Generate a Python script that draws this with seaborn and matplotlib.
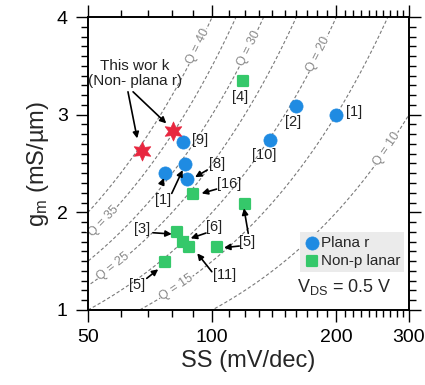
import numpy as np
import pandas as pd
import matplotlib
matplotlib.use("Agg")
import matplotlib.pyplot as plt
import seaborn as sns
from matplotlib.ticker import FixedLocator, NullFormatter, FixedFormatter

# ---- data -------------------------------------------------------------
planar_ss = [200, 160, 138, 85, 86, 77, 87]
planar_gm = [3.00, 3.09, 2.74, 2.72, 2.50, 2.40, 2.34]
nonplanar_ss = [119, 90, 120, 82, 85, 88, 103, 77]
nonplanar_gm = [3.34, 2.19, 2.09, 1.80, 1.70, 1.65, 1.64, 1.49]
work_ss = [67.5, 80.5]
work_gm = [2.63, 2.83]

q_values = [10, 15, 20, 25, 30, 35, 40]
q_label_ss = [265, 82, 181, 57.6, 122.6, 54.5, 92.4]

x_ticks = [50, 100, 200, 300]
y_ticks = [1, 2, 3, 4]

# reference labels: text, text position, arrows (tail, head)
ref_labels = [
    ("[9]", (93.2, 2.74), []),
    ("[10]", (133.6, 2.59), []),
    ("[2]", (157.1, 2.92), []),
    ("[1]", (220.7, 3.03), []),
    ("[4]", (116.8, 3.18), []),
    ("[8]", (102.5, 2.50), [((97.2, 2.433), (90.9, 2.36))]),
    ("[16]", (109.8, 2.29), [((102.5, 2.238), (94.3, 2.194))]),
    ("[1]", (76.0, 2.126), [((75.4, 2.29), (76.4, 2.351)),
                            ((79.8, 2.194), (84.8, 2.433))]),
    ("[3]", (67.5, 1.826), [((71.9, 1.791), (79.8, 1.778))]),
    ("[6]", (101.1, 1.853), [((96.6, 1.788), (88.7, 1.734))]),
    ("[11]", (107.4, 1.358), [((99.8, 1.392), (92.0, 1.58))]),
    ("[5]", (121.6, 1.699), [((122.3, 1.785), (119.4, 2.041)),
                             ((116.3, 1.655), (106.8, 1.638))]),
    ("[5]", (65.6, 1.256), [((69.4, 1.324), (74.0, 1.417))]),
]
work_label = ("This wor k\n(Non- plana r)", (64.9, 3.42),
              [((62.5, 3.234), (65.8, 2.757)), ((64.3, 3.234), (77.4, 2.911))])

BLUE = "#1f8be2"
GREEN = "#35c86a"
RED = "#e8273f"

# ---- style ------------------------------------------------------------
sns.set_theme(style="ticks")
plt.rcParams["font.family"] = ["Liberation Sans", "DejaVu Sans"]
plt.rcParams["mathtext.fontset"] = "custom"
plt.rcParams["mathtext.rm"] = "Liberation Sans"
plt.rcParams["mathtext.it"] = "Liberation Sans:italic"

fig = plt.figure(figsize=(4.25, 3.85), dpi=100)
ax = fig.add_axes([88 / 425, 1 - 310 / 385, 321 / 425, 293 / 385])
ax.set_xscale("log")
ax.set_xlim(50, 300)
ax.set_ylim(1, 4)

# ---- constant-Q guide curves (Q = gm / SS) ----------------------------
ss_grid = np.geomspace(40, 320, 300)
curves = pd.DataFrame(
    [(q, s, q * s / 1000.0) for q in q_values for s in ss_grid],
    columns=["Q", "SS", "gm"],
)
n_before = len(ax.lines)
sns.lineplot(data=curves, x="SS", y="gm", units="Q", estimator=None,
             color="#7a7a7a", lw=0.8, ax=ax, legend=False, zorder=1)
for ln in ax.lines[n_before:]:
    ln.set_dashes((3, 2))

for q, s in zip(q_values, q_label_ss):
    g = q * s / 1000.0
    p1 = ax.transData.transform((s * 0.97, q * s * 0.97 / 1000.0))
    p2 = ax.transData.transform((s * 1.03, q * s * 1.03 / 1000.0))
    ang = np.degrees(np.arctan2(p2[1] - p1[1], p2[0] - p1[0]))
    ax.text(s, g, f"Q = {q}", rotation=ang, rotation_mode="anchor",
            ha="center", va="center", fontsize=9, color="#888888",
            bbox=dict(boxstyle="square,pad=0.05", fc="white", ec="none"),
            zorder=2)

# ---- data points ------------------------------------------------------
planar = pd.DataFrame({"SS": planar_ss, "gm": planar_gm})
nonplanar = pd.DataFrame({"SS": nonplanar_ss, "gm": nonplanar_gm})
work = pd.DataFrame({"SS": work_ss, "gm": work_gm})

sns.scatterplot(data=planar, x="SS", y="gm", marker="o", s=90, color=BLUE,
                edgecolor=BLUE, linewidth=0.5, ax=ax, zorder=4,
                label="Plana r")
sns.scatterplot(data=nonplanar, x="SS", y="gm", marker="s", s=52,
                color=GREEN, edgecolor=GREEN, linewidth=1.6, ax=ax,
                zorder=4, label="Non-p lanar")
sns.scatterplot(data=work, x="SS", y="gm", marker=(6, 1, 0), s=190,
                color=RED, edgecolor=RED, linewidth=0.5, ax=ax, zorder=5,
                legend=False)
for c in ax.collections:
    c.set_joinstyle("round")

# ---- annotations ------------------------------------------------------
arrow_kw = dict(arrowstyle="-|>", color="black", lw=1.2,
                mutation_scale=9, shrinkA=0, shrinkB=0)
for text, pos, arrows in ref_labels + [work_label]:
    ax.text(pos[0], pos[1], text, ha="center", va="center",
            fontsize=10.5 if text.startswith("[") else 11,
            color="#222222", zorder=6, linespacing=1.1)
    for tail, head in arrows:
        ax.annotate("", xy=head, xytext=tail, arrowprops=arrow_kw, zorder=6)

ax.text(0.80, 0.078, r"$\mathregular{V_{DS}}$ = 0.5 V", transform=ax.transAxes,
        ha="center", va="center", fontsize=13)

# ---- legend -----------------------------------------------------------
leg = ax.legend(loc="lower right", bbox_to_anchor=(0.985, 0.13),
                frameon=True, fancybox=False, framealpha=1,
                facecolor="#ebebeb", edgecolor="none", fontsize=11,
                handletextpad=0.1, handlelength=1.0, borderpad=0.25,
                labelspacing=0.25, borderaxespad=0)

# ---- axes & ticks -----------------------------------------------------
ax.xaxis.set_major_locator(FixedLocator(x_ticks))
ax.xaxis.set_major_formatter(FixedFormatter([str(t) for t in x_ticks]))
minor_x = list(range(60, 100, 10)) + list(range(110, 200, 10)) + list(range(210, 300, 10))
ax.xaxis.set_minor_locator(FixedLocator(minor_x))
ax.xaxis.set_minor_formatter(NullFormatter())
ax.yaxis.set_major_locator(FixedLocator(y_ticks))
ax.yaxis.set_minor_locator(FixedLocator(np.arange(1.0, 4.0001, 0.1)))

ax.tick_params(which="both", direction="out", top=True, right=True,
               color="black", width=1.0, labelsize=14, labelcolor="black")
ax.tick_params(which="major", length=8.5, pad=5)
ax.tick_params(which="minor", length=5)
ax.tick_params(axis="y", which="major", pad=6)
for sp in ax.spines.values():
    sp.set_visible(True)
    sp.set_linewidth(1.4)
    sp.set_color("black")

ax.set_xlabel("SS (mV/dec)", fontsize=17, labelpad=3)
ax.set_ylabel(r"$\mathregular{g_m}$ (mS/µm)", fontsize=17, labelpad=4)

fig.savefig("out.png", dpi=100)
